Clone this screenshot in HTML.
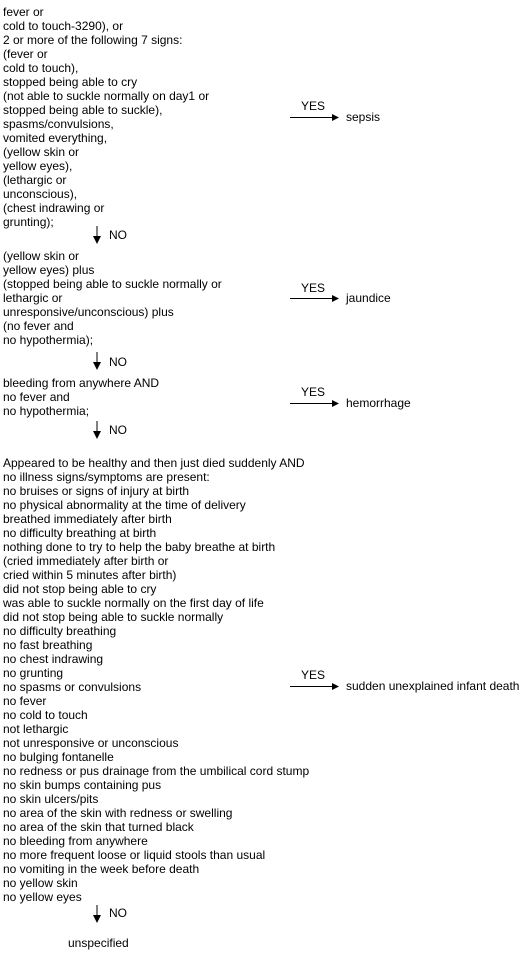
<!DOCTYPE html>
<html><head><meta charset="utf-8"><style>
body{margin:0;width:520px;height:958px;background:#fff;position:relative;overflow:hidden;font-family:"Liberation Sans",Arial,sans-serif;font-size:12px;color:#000}
.b{position:absolute;left:3px;line-height:14px;white-space:pre}
.t{position:absolute;line-height:14px;white-space:pre}
svg{position:absolute;left:0;top:0}
</style></head><body>
<div class="b" style="top:5px">fever or
cold to touch-3290), or
2 or more of the following 7 signs:
(fever or
cold to touch),
stopped being able to cry
(not able to suckle normally on day1 or
stopped being able to suckle),
spasms/convulsions,
vomited everything,
(yellow skin or
yellow eyes),
(lethargic or
unconscious),
(chest indrawing or
grunting);</div>
<div class="b" style="top:249px">(yellow skin or
yellow eyes) plus
(stopped being able to suckle normally or
lethargic or
unresponsive/unconscious) plus
(no fever and
no hypothermia);</div>
<div class="b" style="top:376px">bleeding from anywhere AND
no fever and
no hypothermia;</div>
<div class="b" style="top:456px">Appeared to be healthy and then just died suddenly AND
no illness signs/symptoms are present:
no bruises or signs of injury at birth
no physical abnormality at the time of delivery
breathed immediately after birth
no difficulty breathing at birth
nothing done to try to help the baby breathe at birth
(cried immediately after birth or
cried within 5 minutes after birth)
did not stop being able to cry
was able to suckle normally on the first day of life
did not stop being able to suckle normally
no difficulty breathing
no fast breathing
no chest indrawing
no grunting
no spasms or convulsions
no fever
no cold to touch
not lethargic
not unresponsive or unconscious
no bulging fontanelle
no redness or pus drainage from the umbilical cord stump
no skin bumps containing pus
no skin ulcers/pits
no area of the skin with redness or swelling
no area of the skin that turned black
no bleeding from anywhere
no more frequent loose or liquid stools than usual
no vomiting in the week before death
no yellow skin
no yellow eyes</div>
<div class="t" style="left:68px;top:936px">unspecified</div>
<div class="t" style="left:109px;top:228px">NO</div>
<div class="t" style="left:109px;top:355px">NO</div>
<div class="t" style="left:109px;top:423px">NO</div>
<div class="t" style="left:109px;top:906px">NO</div>
<div class="t" style="left:301px;top:99px">YES</div>
<div class="t" style="left:346px;top:110px">sepsis</div>
<div class="t" style="left:301px;top:281px">YES</div>
<div class="t" style="left:346px;top:291px">jaundice</div>
<div class="t" style="left:301px;top:385px">YES</div>
<div class="t" style="left:346px;top:396px">hemorrhage</div>
<div class="t" style="left:301px;top:668px">YES</div>
<div class="t" style="left:346px;top:679px">sudden unexplained infant death</div>
<svg width="520" height="958">
<g stroke="#000" stroke-width="1" fill="#000">
<line x1="97" y1="226" x2="97" y2="238"/><polygon points="93,236 101,236 97,244" stroke="none"/>
<line x1="97" y1="352" x2="97" y2="364"/><polygon points="93,362 101,362 97,370" stroke="none"/>
<line x1="97" y1="421" x2="97" y2="433"/><polygon points="93,431 101,431 97,439" stroke="none"/>
<line x1="97" y1="905" x2="97" y2="917"/><polygon points="93,915 101,915 97,923" stroke="none"/>
<line x1="290" y1="117.5" x2="334" y2="117.5"/><polygon points="332,114 339,117.5 332,121" stroke="none"/>
<line x1="290" y1="298.5" x2="334" y2="298.5"/><polygon points="332,295 339,298.5 332,302" stroke="none"/>
<line x1="290" y1="403.5" x2="334" y2="403.5"/><polygon points="332,400 339,403.5 332,407" stroke="none"/>
<line x1="290" y1="686.5" x2="334" y2="686.5"/><polygon points="332,683 339,686.5 332,690" stroke="none"/>
</g></svg>
</body></html>
